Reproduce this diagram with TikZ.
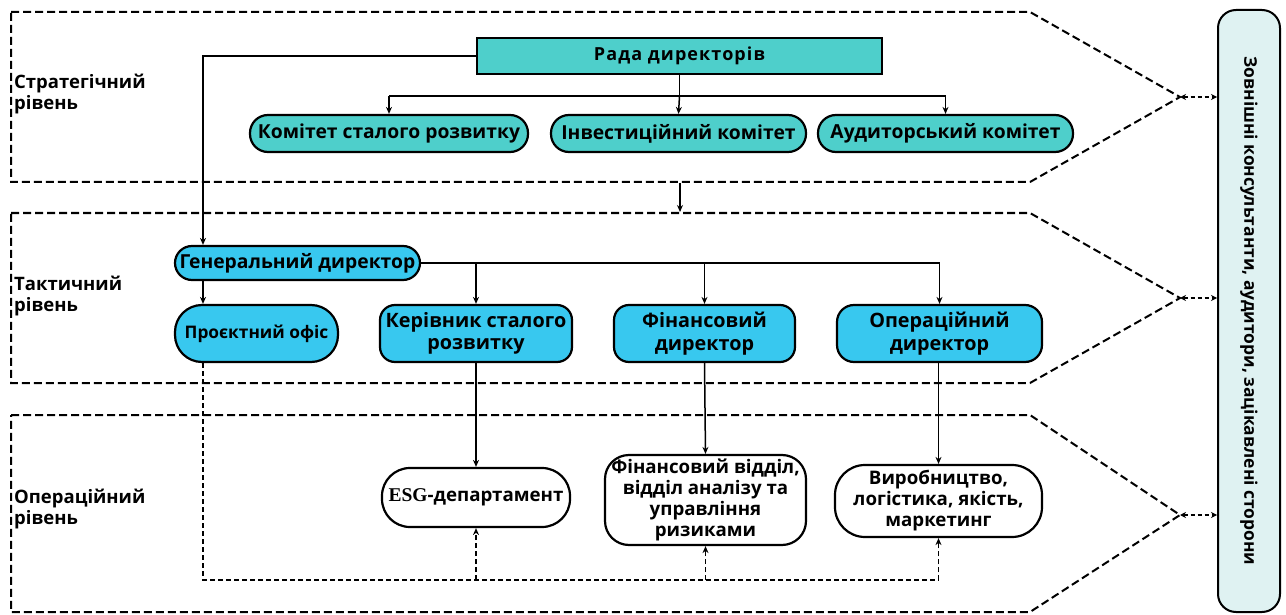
\documentclass[tikz,border=0pt]{standalone}
\usepackage{fontspec}
\setmainfont{Open Sans}
\newfontfamily\esgfont{Liberation Serif}
\newfontfamily\spacedfont{Open Sans}[LetterSpace=6]
\usetikzlibrary{arrows.meta}

\definecolor{teal}{HTML}{4ECFCB}
\definecolor{sky}{HTML}{38C8EF}
\definecolor{extfill}{HTML}{DFF2F2}

\tikzset{
  band/.style={draw, line width=2pt, dash pattern=on 8pt off 4pt},
  link/.style={line width=1.5pt, -{Stealth[length=7pt,width=6pt]}},
  plain/.style={line width=1.5pt},
  dlink/.style={line width=1.5pt, dash pattern=on 5pt off 3pt, -{Stealth[length=7pt,width=6pt]}},
  twoway/.style={line width=1.8pt, dash pattern=on 4pt off 3pt, {Stealth[length=6pt,width=6pt]}-{Stealth[length=6pt,width=6pt]}},
  box/.style={draw, line width=2.2pt, align=center, inner sep=0pt, font=\fontsize{19.3}{22}\selectfont\bfseries},
  stratbox/.style={box, fill=teal},
  tactbox/.style={box, fill=sky},
  opbox/.style={box, fill=white},
  optext/.style={font=\fontsize{18.7}{21}\selectfont\bfseries},
  lvl/.style={anchor=west, align=left, inner sep=0pt, font=\fontsize{18.5}{21.5}\selectfont\bfseries}
}

\begin{document}
\begin{tikzpicture}[x=1pt, y=-1pt]
\useasboundingbox (0,0) rectangle (1286,615);

% level bands
\draw[band] (11,12) -- (1030,12) -- (1180,97) coordinate (tipS) -- (1030,182) -- (11,182) -- cycle;
\draw[band] (11,213) -- (1030,213) -- (1180,298) coordinate (tipT) -- (1030,383) -- (11,383) -- cycle;
\draw[band] (11,415) -- (1030,415) -- (1180,515) coordinate (tipO) -- (1030,612) -- (11,612) -- cycle;

% level captions
\node[lvl] (ls) at (14,94) {Стратегічний\\рівень};
\node[lvl] (lt) at (14,296) {Тактичний\\рівень};
\node[lvl] (lo) at (14,509) {Операційний\\рівень};

% external parties
\node[draw, line width=2pt, fill=extfill, rounded corners=18pt, minimum width=62pt, minimum height=602pt, inner sep=0pt,
      font=\fontsize{17.4}{20}\selectfont\bfseries] (ext) at (1249,311)
      {\rotatebox{-90}{Зовнішні консультанти, аудитори, зацікавлені сторони}};

% strategic level
\node[stratbox, minimum width=405pt, minimum height=36pt] (rada) at (679.5,56) {\spacedfont\bfseries\fontsize{18}{22}\selectfont Рада директорів};
\node[stratbox, rounded corners=18pt, minimum width=278pt, minimum height=37pt] (ks) at (389,133.5) {Комітет сталого розвитку};
\node[stratbox, rounded corners=18pt, minimum width=255pt, minimum height=37pt] (ik) at (678.5,133.5) {Інвестиційний комітет};
\node[stratbox, rounded corners=18pt, minimum width=255pt, minimum height=37pt] (ak) at (945.5,133.5) {Аудиторський комітет};

% tactical level
\node[tactbox, rounded corners=17pt, minimum width=245pt, minimum height=34pt] (gen) at (297.5,263) {Генеральний директор};
\node[tactbox, rounded corners=27pt, minimum width=163pt, minimum height=57pt] (po) at (256.5,333.5) {\fontsize{17.3}{21}\selectfont Проєктний офіс};
\node[tactbox, rounded corners=15pt, minimum width=192pt, minimum height=57pt, font=\fontsize{19.8}{22.5}\selectfont\bfseries] (kr) at (476,333.5) {Керівник сталого\\розвитку};
\node[tactbox, rounded corners=15pt, minimum width=181pt, minimum height=57pt, font=\fontsize{19.8}{22.5}\selectfont\bfseries] (fd) at (704.5,333.5) {Фінансовий\\директор};
\node[tactbox, rounded corners=17pt, minimum width=205pt, minimum height=57pt, font=\fontsize{19.8}{22.5}\selectfont\bfseries] (od) at (939.5,333.5) {Операційний\\директор};

% operational level
\node[opbox, rounded corners=28pt, minimum width=188pt, minimum height=59pt, optext] (esg) at (476,497.5)
      {{\esgfont\bfseries\fontsize{19.5}{22}\selectfont ESG}-департамент};
\node[opbox, rounded corners=24pt, minimum width=201pt, minimum height=90pt, optext] (fv) at (705.5,500)
      {Фінансовий відділ,\\відділ аналізу та\\управління\\ризиками};
\node[opbox, rounded corners=30pt, minimum width=207pt, minimum height=72pt, optext] (vy) at (938.5,501)
      {Виробництво,\\логістика, якість,\\маркетинг};

% board to committees
\coordinate (bus) at (0,96);
\draw[plain] (rada.south) -- (rada.south |- bus);
\draw[plain] (ks.north |- bus) -- (ak.north |- bus);
\draw[link] (ks.north |- bus) -- (ks.north);
\draw[link] (rada.south |- bus) -- (ik.north);
\draw[link] (ak.north |- bus) -- (ak.north);

% board to general director
\coordinate (gx) at (203,0);
\draw[link] (rada.west) -| (gen.north -| gx);

% strategic band into tactical band
\coordinate (sb) at (680,183);
\coordinate (tt) at (680,212);
\draw[link] (sb) -- (tt);

% general director to direct reports
\draw[link] (gen.south -| gx) -- (po.north -| gx);
\draw[plain] (gen.east) -- (gen.east -| od.north);
\draw[link] (gen.east -| kr.north) -- (kr.north);
\draw[link] (gen.east -| fd.north) -- (fd.north);
\draw[link] (gen.east -| od.north) -- (od.north);

% directors to departments
\draw[link] (kr.south) -- (esg.north);
\draw[link] (fd.south) -- (fv.north);
\draw[link] (od.south -| vy.north) -- (vy.north);

% project office coordination
\coordinate (rb) at (0,580);
\draw[dlink] (po.south -| gx) -- (gx |- rb) -| (vy.south);
\draw[dlink] (esg.south |- rb) -- (esg.south);
\draw[dlink] (fv.south |- rb) -- (fv.south);

% exchange with external parties
\draw[twoway] (tipS) -- (tipS -| ext.west);
\draw[twoway] (tipT) -- (tipT -| ext.west);
\draw[twoway] (tipO) -- (tipO -| ext.west);
\end{tikzpicture}
\end{document}
